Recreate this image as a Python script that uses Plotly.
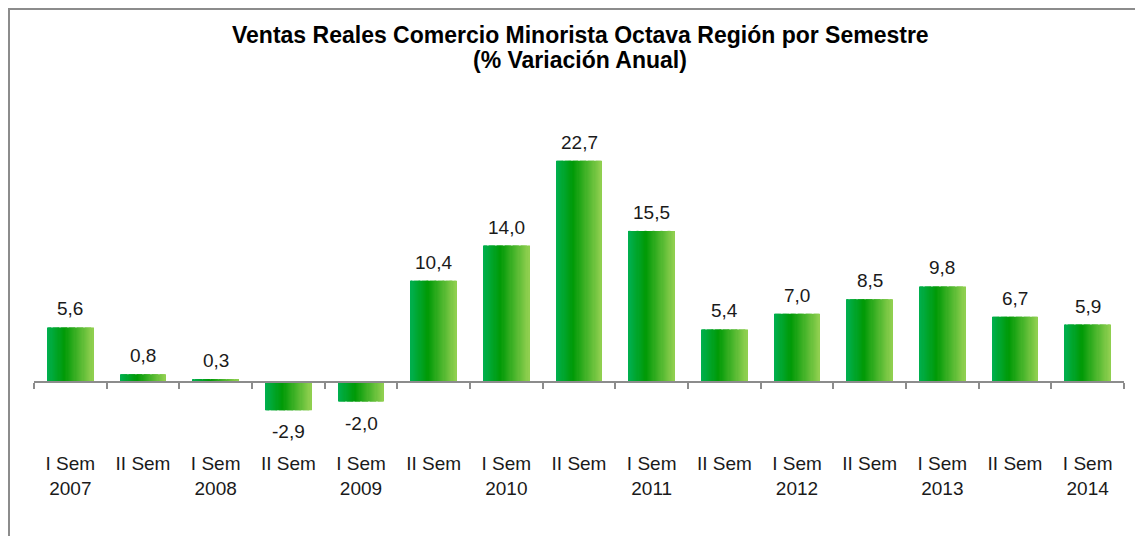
import plotly.graph_objects as go

categories = ["I Sem<br>2007", "II Sem", "I Sem<br>2008", "II Sem", "I Sem<br>2009",
              "II Sem", "I Sem<br>2010", "II Sem", "I Sem<br>2011", "II Sem",
              "I Sem<br>2012", "II Sem", "I Sem<br>2013", "II Sem", "I Sem<br>2014"]
values = [5.6, 0.8, 0.3, -2.9, -2.0, 10.4, 14.0, 22.7, 15.5, 5.4, 7.0, 8.5, 9.8, 6.7, 5.9]
labels = [f"{v:.1f}".replace(".", ",") for v in values]
title_lines = ["Ventas Reales Comercio Minorista Octava Región por Semestre",
               "(% Variación Anual)"]

# page has an 8px body margin, so the figure is sized to fit the window
W, H = 1135, 528
ML, MR, MT, MB = 26, 19, 122, 86
PW, PH = W - ML - MR, H - MT - MB
YMIN, YMAX = -6.97, 25.85

x_idx = list(range(len(values)))
BAR_W = 0.63
N_SLICES = 40
FONT = "Liberation Sans, Arial"

stops = [(0.0, (0x00, 0xB0, 0x50)), (0.38, (0x00, 0x9A, 0x06)), (1.0, (0x92, 0xD0, 0x50))]


def color_at(t):
    for (t0, c0), (t1, c1) in zip(stops[:-1], stops[1:]):
        if t0 <= t <= t1:
            f = (t - t0) / (t1 - t0)
            c = [round(a + (b - a) * f) for a, b in zip(c0, c1)]
            return f"rgb({c[0]},{c[1]},{c[2]})"
    c = stops[-1][1]
    return f"rgb({c[0]},{c[1]},{c[2]})"


def px_to_paper_x(px):
    return (px - ML) / PW


def px_to_paper_y(py):
    return (H - MB - py) / PH


fig = go.Figure()
sw = BAR_W / N_SLICES
for i in range(N_SLICES):
    t = (i + 0.5) / N_SLICES
    fig.add_trace(go.Bar(
        x=x_idx, y=values,
        width=sw * 1.15 if i < N_SLICES - 1 else sw, offset=-BAR_W / 2 + i * sw,
        marker=dict(color=color_at(t), line=dict(width=0)),
        hoverinfo="skip", showlegend=False,
    ))

# data labels
for xi, v, lab in zip(x_idx, values, labels):
    fig.add_annotation(
        x=xi, y=v, text=lab, showarrow=False,
        yanchor="bottom" if v >= 0 else "top",
        yshift=6 if v >= 0 else -9,
        font=dict(family=FONT, size=19, color="#1a1a1a"),
    )

# title (two centred lines)
for line, ypx in zip(title_lines, [27, 52]):
    fig.add_annotation(
        xref="paper", yref="paper",
        x=px_to_paper_x(572), y=px_to_paper_y(ypx),
        xanchor="center", yanchor="middle",
        text=f"<b>{line}</b>", showarrow=False,
        font=dict(family=FONT, size=23, color="black"),
    )

zero_frac = (0 - YMIN) / (YMAX - YMIN)

fig.update_layout(
    width=W, height=H,
    margin=dict(l=ML, r=MR, t=MT, b=MB),
    paper_bgcolor="white", plot_bgcolor="white",
    barmode="overlay",
    xaxis=dict(
        tickmode="array", tickvals=x_idx, ticktext=categories,
        range=[-0.5, len(values) - 0.5],
        showline=False, showgrid=False, zeroline=False, ticks="",
        tickfont=dict(family=FONT, size=19, color="#1a1a1a"),
    ),
    xaxis2=dict(
        overlaying="x", anchor="free", position=zero_frac, side="bottom",
        range=[-0.5, len(values) - 0.5],
        tickmode="array", tickvals=[i - 0.5 for i in range(len(values) + 1)],
        showticklabels=False, ticks="outside", ticklen=6, tickwidth=2, tickcolor="#8c8c8c",
        showline=True, linecolor="#8c8c8c", linewidth=2,
        showgrid=False, zeroline=False,
    ),
    yaxis=dict(range=[YMIN, YMAX], visible=False, showgrid=False, zeroline=False),
)

# dummy trace to activate xaxis2
fig.add_trace(go.Scatter(x=[0], y=[0], xaxis="x2", mode="markers",
                         marker=dict(opacity=0), showlegend=False, hoverinfo="skip"))

# chart border (left and top edges visible)
fig.add_shape(type="line", xref="paper", yref="paper",
              x0=px_to_paper_x(0), x1=px_to_paper_x(1160),
              y0=px_to_paper_y(1), y1=px_to_paper_y(1),
              line=dict(color="#8c8c8c", width=2))
fig.add_shape(type="line", xref="paper", yref="paper",
              x0=px_to_paper_x(1), x1=px_to_paper_x(1),
              y0=px_to_paper_y(0), y1=px_to_paper_y(560),
              line=dict(color="#8c8c8c", width=2))

fig.write_html("out.html")
